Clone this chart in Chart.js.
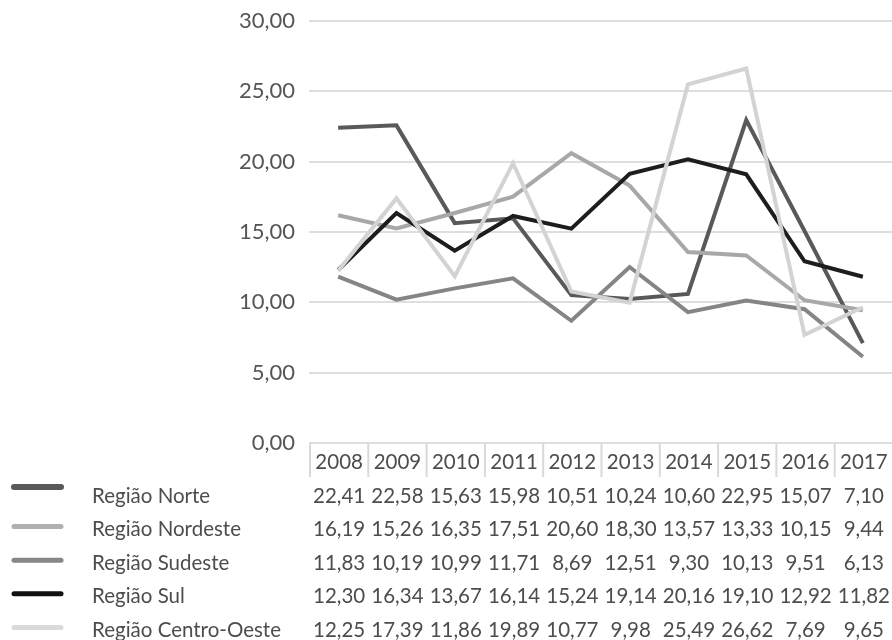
<!DOCTYPE html>
<html>
<head>
<meta charset="utf-8">
<script src="https://cdn.jsdelivr.net/npm/chart.js@4"></script>
<style>
  html, body { margin: 0; padding: 0; background: #ffffff; }
  #wrap { width: 892px; height: 640px; }
</style>
</head>
<body>
<div id="wrap"><canvas id="c" width="892" height="640"></canvas></div>
<script>
const years = ['2008','2009','2010','2011','2012','2013','2014','2015','2016','2017'];
const seriesNames = ['Região Norte','Região Nordeste','Região Sudeste','Região Sul','Região Centro-Oeste'];
const norte      = [22.41, 22.58, 15.63, 15.98, 10.51, 10.24, 10.60, 22.95, 15.07, 7.10];
const nordeste   = [16.19, 15.26, 16.35, 17.51, 20.60, 18.30, 13.57, 13.33, 10.15, 9.44];
const sudeste    = [11.83, 10.19, 10.99, 11.71, 8.69, 12.51, 9.30, 10.13, 9.51, 6.13];
const sul        = [12.30, 16.34, 13.67, 16.14, 15.24, 19.14, 20.16, 19.10, 12.92, 11.82];
const centroOeste= [12.25, 17.39, 11.86, 19.89, 10.77, 9.98, 25.49, 26.62, 7.69, 9.65];
const yTicks = [0, 5, 10, 15, 20, 25, 30];

const seriesValues = [norte, nordeste, sudeste, sul, centroOeste];
const lineColors = ['#595959', '#a8a8a8', '#858585', '#1f1c1d', '#d3d3d3'];
const swatchColors = ['#595959', '#b0b0b0', '#878787', '#111111', '#dadada'];

const fmt = v => v.toFixed(2).replace('.', ',');
const FONT = 'Lato, "Open Sans", sans-serif';
const TEXT = '#4d4d4d';

const tablePlugin = {
  id: 'dataTable',
  afterDraw(chart) {
    const ctx = chart.ctx;
    const xs = chart.scales.x;
    const ca = chart.chartArea;
    const n = years.length;
    const colW = (xs.right - xs.left) / n;
    const top = ca.bottom;
    ctx.save();
    ctx.strokeStyle = '#d9d9d9';
    ctx.lineWidth = 2;
    for (let i = 0; i < n; i++) {
      const x = xs.left + i * colW + 1;
      ctx.beginPath();
      ctx.moveTo(x, top);
      ctx.lineTo(x, top + 34);
      ctx.stroke();
    }
    ctx.fillStyle = TEXT;
    ctx.font = '20.5px ' + FONT;
    ctx.textAlign = 'center';
    ctx.textBaseline = 'middle';
    years.forEach((y, i) => {
      ctx.fillText(y, xs.getPixelForValue(i) + 1, top + 19);
    });
    const rowStart = top + 53;
    const rowStep = 33.6;
    seriesNames.forEach((name, r) => {
      const cy = rowStart + r * rowStep;
      const sy = cy - (r === 0 ? 9 : 3);
      ctx.strokeStyle = swatchColors[r];
      ctx.lineWidth = r === 0 ? 6 : 5;
      ctx.lineCap = 'round';
      ctx.beginPath();
      ctx.moveTo(14, sy);
      ctx.lineTo(61, sy);
      ctx.stroke();
      ctx.fillStyle = TEXT;
      ctx.textAlign = 'left';
      ctx.fillText(name, 92, cy);
      ctx.textAlign = 'center';
      seriesValues[r].forEach((v, i) => {
        ctx.fillText(fmt(v), xs.getPixelForValue(i) + 1, cy);
      });
    });
    ctx.restore();
  }
};

const datasets = seriesNames.map((name, i) => ({
  label: name,
  data: seriesValues[i],
  borderColor: lineColors[i],
  backgroundColor: lineColors[i],
  borderWidth: 4,
  pointRadius: 0,
  pointHoverRadius: 0,
  tension: 0,
  fill: false,
  borderJoinStyle: 'miter',
  borderCapStyle: 'butt',
  order: seriesNames.length - i
}));

new Chart(document.getElementById('c'), {
  type: 'line',
  data: { labels: years, datasets },
  options: {
    responsive: false,
    devicePixelRatio: 1,
    animation: false,
    layout: { padding: { top: 21, right: -3, bottom: 197, left: 0 } },
    plugins: { legend: { display: false }, tooltip: { enabled: false } },
    scales: {
      x: {
        type: 'category',
        offset: true,
        display: false
      },
      y: {
        min: 0,
        max: 30,
        afterBuildTicks(scale) { scale.ticks = yTicks.map(v => ({ value: v })); },
        afterFit(scale) {
          scale.width = 309;
          scale.paddingTop = 0;
          scale.paddingBottom = 0;
        },
        border: { display: false },
        grid: { color: '#dedede', lineWidth: 2, drawTicks: false },
        ticks: {
          padding: 14,
          color: '#555555',
          font: { family: FONT, size: 22 },
          callback: v => fmt(v)
        }
      }
    }
  },
  plugins: [tablePlugin]
});
</script>
</body>
</html>
